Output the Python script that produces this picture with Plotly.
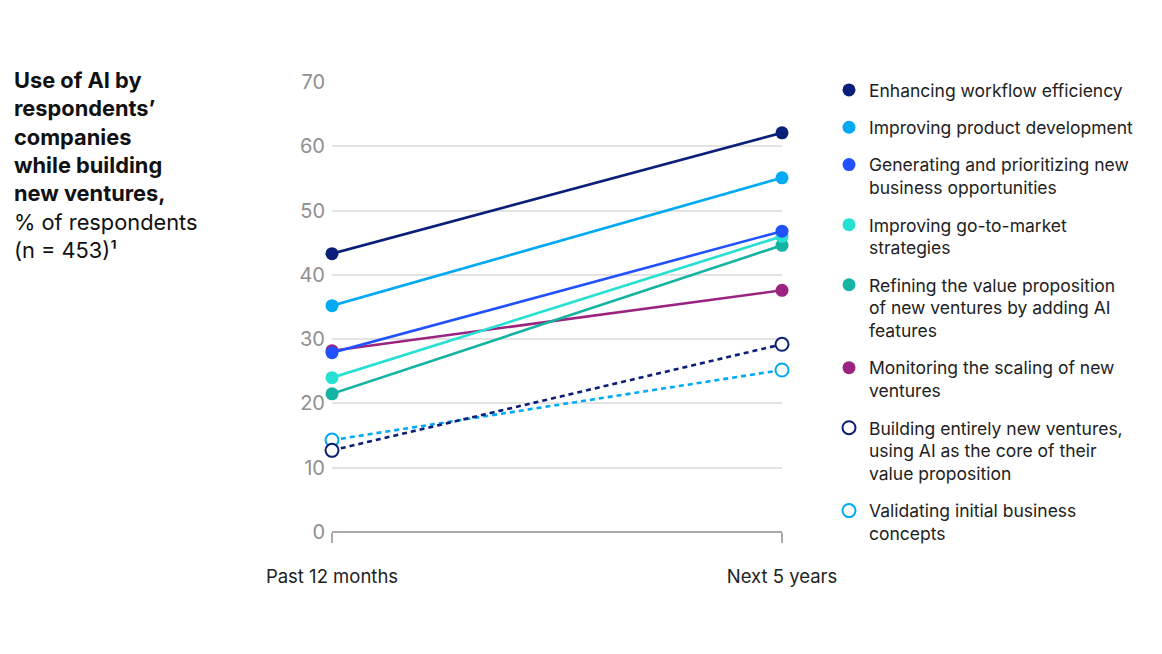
import plotly.graph_objects as go

periods = ["Past 12 months", "Next 5 years"]
series_names = [
    "Enhancing workflow efficiency",
    "Improving product development",
    "Generating and prioritizing new<br>business opportunities",
    "Improving go-to-market<br>strategies",
    "Refining the value proposition<br>of new ventures by adding AI<br>features",
    "Monitoring the scaling of new<br>ventures",
    "Building entirely new ventures,<br>using AI as the core of their<br>value proposition",
    "Validating initial business<br>concepts",
]
past_values = [43.3, 35.2, 27.9, 24, 21.5, 28.2, 12.7, 14.3]
next_values = [62.1, 55.1, 46.8, 46, 44.6, 37.6, 29.2, 25.2]
colors = ["#0b1f78", "#00a9f4", "#2251ff", "#26e0d2", "#14b3a2", "#9a2480", "#0b1f78", "#00a9f4"]
hollow = [False, False, False, False, False, False, True, True]
y_ticks = [0, 10, 20, 30, 40, 50, 60, 70]

FONT = "Inter"
fig = go.Figure()
xs = [0, 1]

# draw lines (reverse so first series on top)
for i in reversed(range(len(series_names))):
    c = colors[i]
    if hollow[i]:
        marker = dict(size=13, color="white", line=dict(color=c, width=2))
        line = dict(color=c, width=2.6, dash="5px,4px")
    else:
        marker = dict(size=13, color=c, line=dict(color=c, width=0))
        line = dict(color=c, width=2.6)
    fig.add_trace(go.Scatter(
        x=xs, y=[past_values[i], next_values[i]], mode="lines+markers",
        line=line, marker=marker, showlegend=False, cliponaxis=False,
        hoverinfo="skip"))

# legend-only entries
for i in range(len(series_names)):
    c = colors[i]
    if hollow[i]:
        marker = dict(size=13, color="white", line=dict(color=c, width=2))
    else:
        marker = dict(size=13, color=c, line=dict(color=c, width=0))
    fig.add_trace(go.Scatter(
        x=[None], y=[None], mode="markers", marker=marker,
        name=series_names[i], legendgroup=f"g{i}", showlegend=True))

W, H = 1146, 638
OFF = 8
L = 332 - OFF
T = 82 - OFF
R = W - (782 - OFF)
B = H - (532 - OFF)
pw = W - L - R
ph = H - T - B

fig.update_layout(
    width=W, height=H,
    margin=dict(l=L, r=R, t=T, b=B, pad=0),
    paper_bgcolor="white", plot_bgcolor="white",
    font=dict(family=FONT, color="#222"),
    xaxis=dict(range=[0, 1], tickvals=xs, ticktext=periods, showgrid=False,
               zeroline=False, ticks="outside", ticklen=10, tickcolor="#aaa",
               tickwidth=1.5, showline=False, ticklabelstandoff=18,
               tickfont=dict(size=18.5, color="#222", family=FONT), fixedrange=True),
    yaxis=dict(range=[0, 70], tickvals=y_ticks, showgrid=True, gridcolor="#e3e3e3",
               gridwidth=1.5, zeroline=True, zerolinecolor="#aaa", zerolinewidth=1.5,
               ticks="", showline=False, ticklabelstandoff=6,
               tickfont=dict(size=20, color="#8f8f8f", family=FONT), fixedrange=True),
    legend=dict(x=(869 - 40 - OFF - L) / pw, xanchor="left",
                y=1.0 + (T - (72 - OFF)) / ph, valign="top",
                yanchor="top", tracegroupgap=11.6, maxheight=620,
                font=dict(size=17.5, color="#222", family=FONT),
                bgcolor="rgba(0,0,0,0)", itemclick=False, itemdoubleclick=False),
    showlegend=True,
)

title_text = ("<b>Use of AI by<br>respondents’<br>companies<br>while building<br>new ventures,</b><br>"
              "% of respondents<br>(n = 453)¹")
fig.add_annotation(text=title_text, xref="paper", yref="paper",
                   x=(12 - OFF - L) / pw, y=1.0 + (T - (65 - OFF)) / ph,
                   xanchor="left", yanchor="top", align="left", showarrow=False,
                   font=dict(size=21.8, color="#111", family=FONT))

fig.write_html("out.html")
